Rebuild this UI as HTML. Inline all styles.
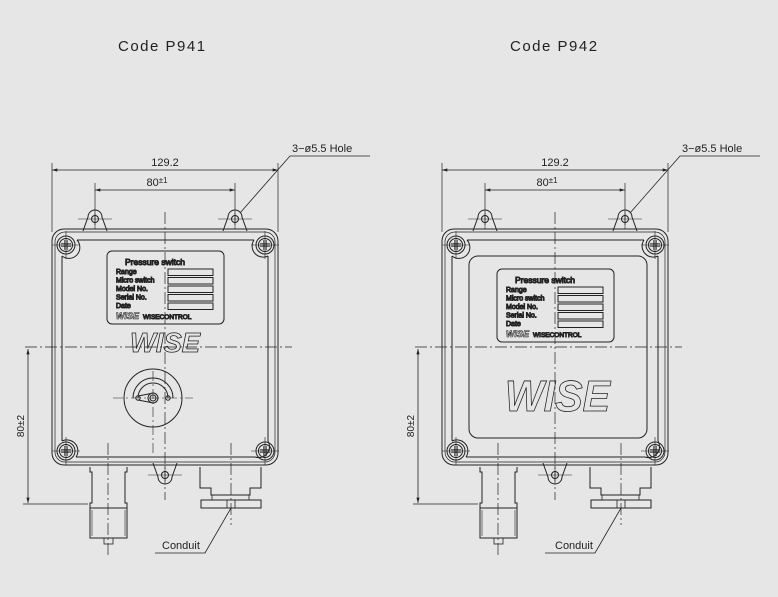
<!DOCTYPE html>
<html><head><meta charset="utf-8"><style>
html,body{margin:0;padding:0;background:#e6e6e6;}
svg{display:block;}
text{font-family:"Liberation Sans",sans-serif;fill:#222;}
text.o{fill:none;stroke:#222;}
</style></head><body>
<svg width="778" height="597" viewBox="0 0 778 597" xmlns="http://www.w3.org/2000/svg">
<defs>
<marker id="a" viewBox="0 0 10 6" refX="10" refY="3" markerWidth="8" markerHeight="4" orient="auto-start-reverse"><path d="M0,0L10,3L0,6z" fill="#222"/></marker>
<g id="screw">
 <circle r="9" fill="none" stroke="#222"/>
 <circle r="6.5" fill="none" stroke="#222"/>
 <path d="M-5,-1.2h10M-5,1.2h10M-1.2,-5v10M1.2,-5v10" stroke="#222" stroke-width="0.8"/>
 <path d="M-14,0h28M0,-14v28" stroke="#222" stroke-width="0.6"/>
</g>
<g id="ear">
 <path d="M-12,12 L-7,-2 A7,7 0 0 1 7,-2 L12,12" fill="none" stroke="#222"/>
 <circle r="3.5" fill="none" stroke="#222"/>
 <path d="M-17,0h34M0,-6v16" stroke="#222" stroke-width="0.6"/>
</g>
<g id="plate">
 <rect x="0" y="0" width="117" height="73" rx="5" fill="none" stroke="#222"/>
 <text x="18" y="14" font-size="8.5">Pressure  switch</text>
 <g font-size="7">
  <text x="9" y="23">Range</text><text x="9" y="31.5">Micro  switch</text><text x="9" y="40">Model  No.</text><text x="9" y="48.5">Serial  No.</text><text x="9" y="57">Date</text>
 </g>
 <g fill="none" stroke="#222"><rect x="61" y="18" width="45" height="6.5"/><rect x="61" y="26.5" width="45" height="6.5"/><rect x="61" y="35" width="45" height="6.5"/><rect x="61" y="43.5" width="45" height="6.5"/><rect x="61" y="52" width="45" height="6.5"/></g>
 <text class="o" x="9" y="68" font-size="9" font-weight="bold" font-style="italic" stroke-width="0.6">WISE</text>
 <text x="36" y="68" font-size="6.5">WISECONTROL</text>
</g>
<g id="dev" fill="none" stroke="#222">
 <path d="M52,163V232M278,163V232M95,183V225M235,183V225" stroke-width="0.7"/>
 <line x1="52" y1="170" x2="278" y2="170" stroke-width="0.8" marker-start="url(#a)" marker-end="url(#a)"/>
 <line x1="95" y1="190" x2="235" y2="190" stroke-width="0.8" marker-start="url(#a)" marker-end="url(#a)"/>
 <path d="M240,213L290,156H370" stroke-width="0.8"/>
 <rect x="52" y="229" width="226" height="236" rx="12" stroke-width="1"/>
 <rect x="55" y="232" width="220" height="230" rx="10" stroke-width="0.7"/>
 <path d="M77,240 H254 M76,457 H255 M62,256 V441 M268,256 V441" stroke-width="1"/>
 <path d="M77,240 A11,11 0 0 1 62,256 M254,240 A11,11 0 0 0 268,256 M62,441 A11,11 0 0 1 76,457 M268,441 A11,11 0 0 1 255,457" stroke-width="1"/>
 <use href="#screw" x="66" y="245"/><use href="#screw" x="265" y="245"/>
 <use href="#screw" x="66" y="451"/><use href="#screw" x="265" y="451"/>
 <use href="#ear" x="95" y="219"/><use href="#ear" x="235" y="219"/>
 <g transform="translate(165,475) scale(1,-1)"><use href="#ear"/></g>
 <path d="M90,467 V472 H92 V503 H90 V508 H127 V503 H125 V472 H127 V467" stroke-width="1"/>
 <rect x="90" y="508" width="37" height="30" stroke-width="1"/>
 <path d="M92,510V536M125,510V536" stroke-width="0.6"/>
 <rect x="104" y="538" width="9" height="6" stroke-width="0.8"/>
 <path d="M200,467 V488 H211 V495 H250 V488 H261 V467" stroke-width="1"/>
 <path d="M212,495 V500 M249,495 V500" stroke-width="0.8"/>
 <rect x="201" y="500" width="60" height="8" stroke-width="1"/>
 <path d="M227,500V508M235,500V508" stroke-width="0.8"/>
 <path d="M231,508L205,553H155" stroke-width="0.8"/>
 <line x1="28" y1="349" x2="28" y2="503" stroke-width="0.8" marker-start="url(#a)" marker-end="url(#a)"/>
 <path d="M23,504H88" stroke-width="0.7"/>
 <path d="M25,347H292" stroke-width="0.7" stroke-dasharray="12,3,2,3"/>
 <path d="M165,212V500" stroke-width="0.7" stroke-dasharray="12,3,2,3"/>
 <path d="M108,443V555M231,443V525" stroke-width="0.7" stroke-dasharray="12,3,2,3"/>
</g>
</defs>

<text x="118" y="51" font-size="15" letter-spacing="1.5">Code  P941</text>
<text x="510" y="51" font-size="15" letter-spacing="1.5">Code  P942</text>

<use href="#dev"/>
<g fill="none" stroke="#222">
 <use href="#plate" x="107" y="251"/>
 <text class="o" x="130" y="352" font-size="28" font-weight="bold" font-style="italic" stroke-width="0.8" textLength="70" lengthAdjust="spacingAndGlyphs">WISE</text>
 <circle cx="153" cy="398" r="29"/>
 <path d="M133,398 A20,20 0 0 1 173,398 M138,398 A15,15 0 0 1 168,398"/>
 <circle cx="138" cy="398" r="2.2"/><circle cx="168" cy="398" r="2.2"/>
 <circle cx="153" cy="398" r="5"/><circle cx="153" cy="398" r="3"/>
 <path d="M138,396L151,393.5M138,400L151,402.5"/>
 <path d="M113,398H193M153,371V455" stroke-width="0.6" stroke-dasharray="10,3,2,3"/>
</g>
<text x="165" y="166" font-size="11" text-anchor="middle">129.2</text>
<text x="157" y="186" font-size="11" text-anchor="middle">80<tspan font-size="8" dy="-3">±1</tspan></text>
<text x="292" y="152" font-size="11">3−ø5.5  Hole</text>
<text x="162" y="549" font-size="11">Conduit</text>
<text transform="translate(24,426) rotate(-90)" font-size="10" text-anchor="middle">80±2</text>

<g transform="translate(390,0)"><use href="#dev"/></g>
<g fill="none" stroke="#222">
 <rect x="469" y="256" width="178" height="182" rx="9"/>
 <use href="#plate" x="497" y="269"/>
 <text class="o" x="505" y="411" font-size="44" font-weight="bold" font-style="italic" stroke-width="0.8" textLength="105" lengthAdjust="spacingAndGlyphs">WISE</text>
</g>
<text x="555" y="166" font-size="11" text-anchor="middle">129.2</text>
<text x="547" y="186" font-size="11" text-anchor="middle">80<tspan font-size="8" dy="-3">±1</tspan></text>
<text x="682" y="152" font-size="11">3−ø5.5  Hole</text>
<text x="555" y="549" font-size="11">Conduit</text>
<text transform="translate(414,426) rotate(-90)" font-size="10" text-anchor="middle">80±2</text>
</svg>
</body></html>
